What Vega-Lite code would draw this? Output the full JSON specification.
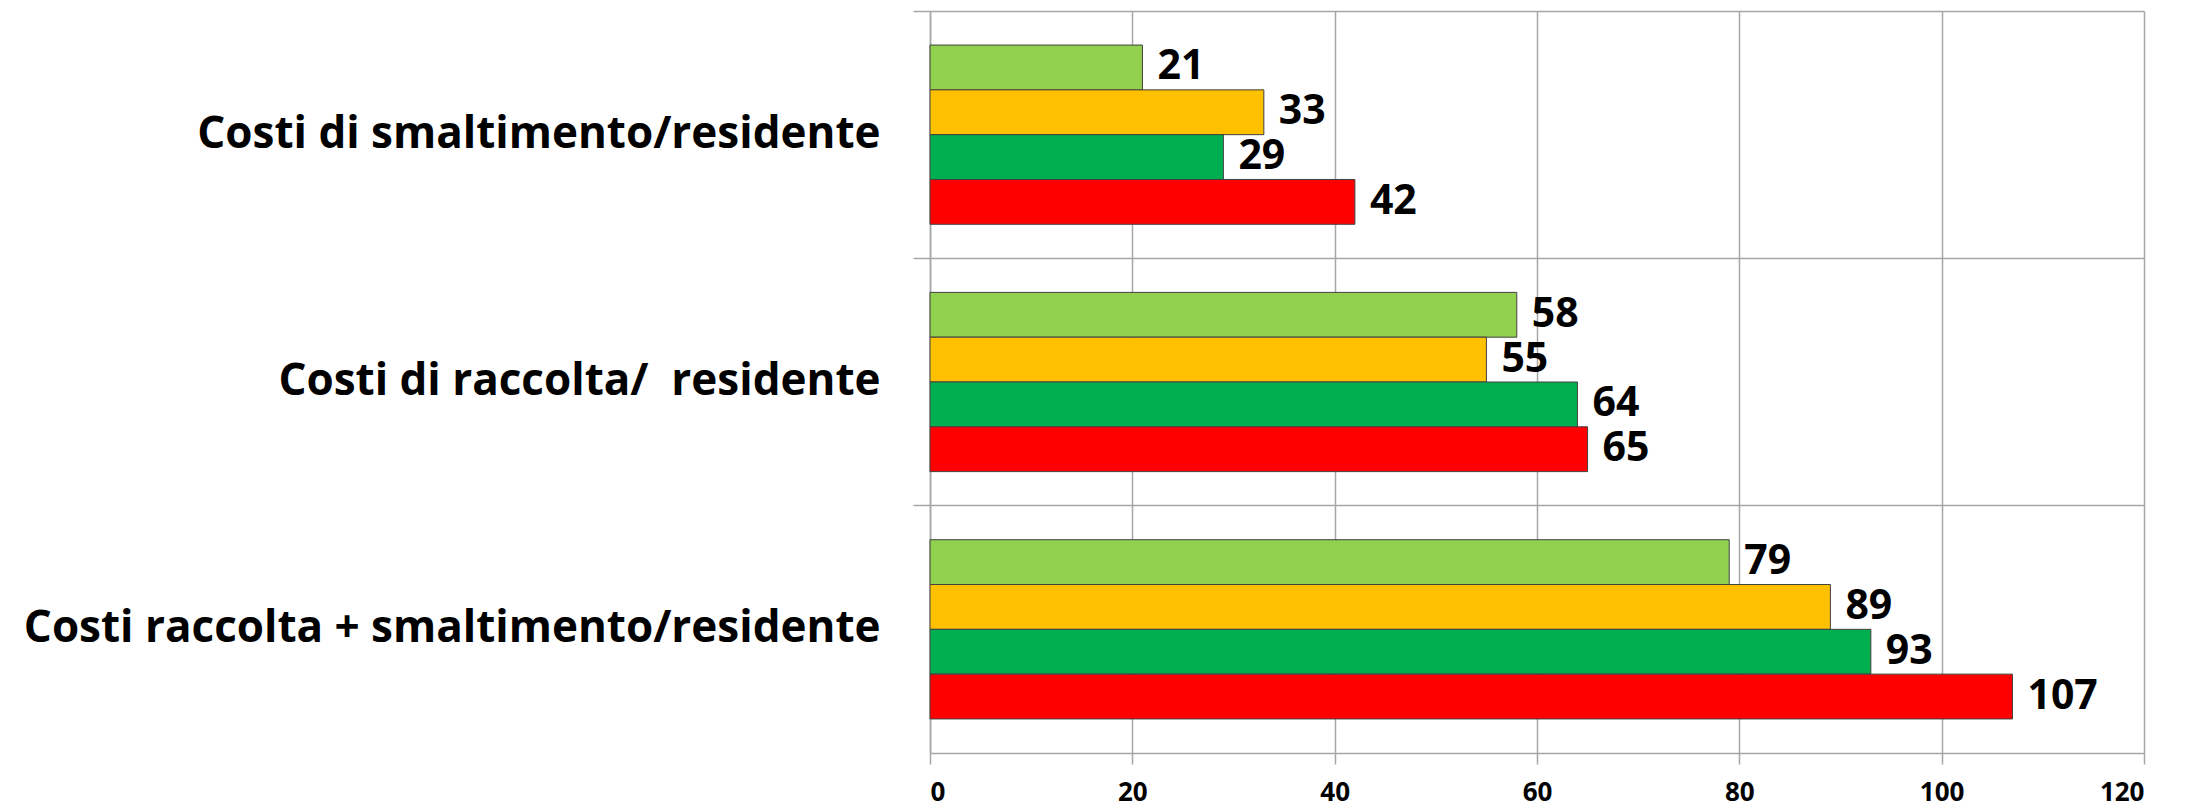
{
  "$schema": "https://vega.github.io/schema/vega-lite/v6.json",
  "autosize": {"type": "none"},
  "width": 1214,
  "height": 742,
  "padding": {"left": 930, "top": 11, "right": 57, "bottom": 55},
  "background": "white",
  "config": {"view": {"stroke": null}, "font": "Open Sans"},
  "data": {
    "values": [
      {"categoria": "Costi di smaltimento/residente", "serie": "Serie 1", "valore": 21},
      {"categoria": "Costi di smaltimento/residente", "serie": "Serie 2", "valore": 33},
      {"categoria": "Costi di smaltimento/residente", "serie": "Serie 3", "valore": 29},
      {"categoria": "Costi di smaltimento/residente", "serie": "Serie 4", "valore": 42},
      {"categoria": "Costi di raccolta/\u00a0 residente", "serie": "Serie 1", "valore": 58},
      {"categoria": "Costi di raccolta/\u00a0 residente", "serie": "Serie 2", "valore": 55},
      {"categoria": "Costi di raccolta/\u00a0 residente", "serie": "Serie 3", "valore": 64},
      {"categoria": "Costi di raccolta/\u00a0 residente", "serie": "Serie 4", "valore": 65},
      {"categoria": "Costi raccolta + smaltimento/residente", "serie": "Serie 1", "valore": 79},
      {"categoria": "Costi raccolta + smaltimento/residente", "serie": "Serie 2", "valore": 89},
      {"categoria": "Costi raccolta + smaltimento/residente", "serie": "Serie 3", "valore": 93},
      {"categoria": "Costi raccolta + smaltimento/residente", "serie": "Serie 4", "valore": 107}
    ]
  },
  "encoding": {
    "y": {
      "field": "categoria",
      "type": "nominal",
      "sort": ["Costi di smaltimento/residente", "Costi di raccolta/\u00a0 residente", "Costi raccolta + smaltimento/residente"],
      "scale": {"paddingInner": 0, "paddingOuter": 0},
      "axis": {
        "title": null,
        "bandPosition": 0,
        "grid": true,
        "gridColor": "#A6A6A6",
        "gridWidth": 1.5,
        "domainColor": "#A6A6A6",
        "domainWidth": 1.5,
        "tickColor": "#A6A6A6",
        "tickWidth": 1.5,
        "tickSize": 17,
        "labelPadding": 33,
        "labelFont": "Open Sans",
        "labelFontWeight": "bold",
        "labelFontSize": 44,
        "labelColor": "#000000",
        "labelLimit": 1000
      }
    },
    "yOffset": {
      "field": "serie",
      "type": "nominal",
      "sort": ["Serie 1", "Serie 2", "Serie 3", "Serie 4"],
      "scale": {"paddingInner": 0, "paddingOuter": 0.76}
    },
    "x": {
      "field": "valore",
      "type": "quantitative",
      "scale": {"domain": [0, 120], "nice": false},
      "axis": {
        "title": null,
        "values": [0, 20, 40, 60, 80, 100, 120],
        "grid": true,
        "gridColor": "#A6A6A6",
        "gridWidth": 1.5,
        "domainColor": "#A6A6A6",
        "domainWidth": 1.5,
        "tickColor": "#A6A6A6",
        "tickWidth": 1.5,
        "tickSize": 11,
        "labelPadding": 15,
        "labelFont": "Open Sans",
        "labelFontWeight": "bold",
        "labelFontSize": 26,
        "labelColor": "#000000"
      }
    }
  },
  "layer": [
    {
      "mark": {"type": "bar", "stroke": "#404040", "strokeWidth": 1},
      "encoding": {
        "color": {
          "field": "serie",
          "type": "nominal",
          "scale": {"domain": ["Serie 1", "Serie 2", "Serie 3", "Serie 4"], "range": ["#92D050", "#FFC000", "#00B050", "#FF0000"]},
          "legend": null
        }
      }
    },
    {
      "mark": {"type": "text", "align": "left", "baseline": "middle", "dx": 15, "font": "Open Sans", "fontWeight": "bold", "fontSize": 41, "color": "#000000"},
      "encoding": {"text": {"field": "valore", "type": "quantitative"}}
    }
  ]
}
